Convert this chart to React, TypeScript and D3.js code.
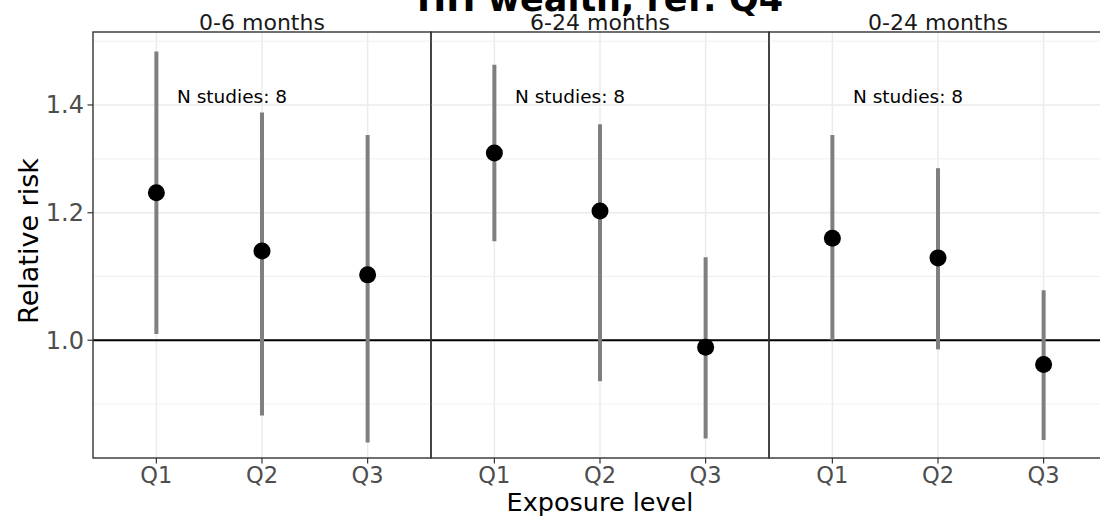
import React from "react";
import * as d3 from "d3";

// ---- data ----
const panels: string[] = ["0-6 months", "6-24 months", "0-24 months"];
const categories: string[] = ["Q1", "Q2", "Q3"];
const estimate: number[][] = [
  [1.235, 1.136, 1.098],
  [1.307, 1.203, 0.99],
  [1.157, 1.125, 0.966],
];
const lower: number[][] = [
  [1.009, 0.898, 0.864],
  [1.152, 0.943, 0.869],
  [1.0, 0.987, 0.867],
];
const upper: number[][] = [
  [1.511, 1.385, 1.341],
  [1.483, 1.362, 1.126],
  [1.341, 1.279, 1.074],
];
const nStudies: number[] = [8, 8, 8];
const yTicks: number[] = [1.0, 1.2, 1.4];
const yDomain: [number, number] = [0.845, 1.554];
const title = "HH wealth, ref: Q4";
const xTitle = "Exposure level";
const yTitle = "Relative risk";

// ---- layout ----
const W = 1100;
const H = 519;
const panelLeft0 = 93;
const panelW = 338;
const top = 32;
const bottom = 458;
const FONT = "'DejaVu Sans', Verdana, sans-serif";

export default function App() {
  const y = d3.scaleLog().domain(yDomain).range([bottom, top]);
  const x = d3.scaleLinear().domain([0.4, 3.6]).range([0, panelW]);
  const lt = yTicks.map((t) => Math.log(t));
  const bd = lt[1] - lt[0];
  const ext = [lt[0] - bd, ...lt, lt[lt.length - 1] + bd];
  const minor: number[] = [];
  for (let i = 0; i < ext.length - 1; i++) minor.push(Math.exp((ext[i] + ext[i + 1]) / 2));
  const minorIn = minor.filter((m) => m > yDomain[0] && m < yDomain[1]);

  return (
    <svg
      width={W}
      height={H}
      style={{ position: "absolute", left: 0, top: 0, display: "block", background: "#fff" }}
      fontFamily={FONT}
    >
      <rect x={0} y={0} width={W} height={H} fill="#fff" />
      {/* title */}
      <text x={600} y={11} textAnchor="middle" fontSize={35} fontWeight="bold" fill="#000">
        {title}
      </text>
      {panels.map((p, pi) => {
        const x0 = panelLeft0 + pi * panelW;
        return (
          <g key={p} transform={`translate(${x0},0)`}>
            {/* minor grid */}
            {minorIn.map((m, i) => (
              <line key={"mi" + i} x1={0} x2={panelW} y1={y(m)} y2={y(m)} stroke="#ebebeb" strokeWidth={0.8} />
            ))}
            {/* major grid */}
            {yTicks.map((t) => (
              <line key={"ma" + t} x1={0} x2={panelW} y1={y(t)} y2={y(t)} stroke="#ebebeb" strokeWidth={1.5} />
            ))}
            {categories.map((c, ci) => (
              <line key={"vx" + c} x1={x(ci + 1)} x2={x(ci + 1)} y1={top} y2={bottom} stroke="#ebebeb" strokeWidth={1.5} />
            ))}
            {/* reference line */}
            <line x1={0} x2={panelW} y1={y(1)} y2={y(1)} stroke="#000" strokeWidth={2} />
            {/* error bars */}
            {categories.map((c, ci) => (
              <line
                key={"eb" + c}
                x1={x(ci + 1)}
                x2={x(ci + 1)}
                y1={y(lower[pi][ci])}
                y2={y(upper[pi][ci])}
                stroke="#7f7f7f"
                strokeWidth={4}
              />
            ))}
            {categories.map((c, ci) => (
              <circle key={"pt" + c} cx={x(ci + 1)} cy={y(estimate[pi][ci])} r={8.5} fill="#000" />
            ))}
            {/* annotation */}
            <text x={84} y={103} fontSize={18.5} fill="#000">
              {`N studies: ${nStudies[pi]}`}
            </text>
            {/* border */}
            <rect x={0} y={top} width={panelW} height={bottom - top} fill="none" stroke="#333" strokeWidth={1.4} />
            {/* strip */}
            <text x={panelW / 2} y={30} textAnchor="middle" fontSize={22} fill="#1a1a1a">
              {p}
            </text>
            {/* x ticks */}
            {categories.map((c, ci) => (
              <g key={"xt" + c}>
                <line x1={x(ci + 1)} x2={x(ci + 1)} y1={bottom} y2={bottom + 5.5} stroke="#333" strokeWidth={1.2} />
                <text x={x(ci + 1)} y={483} textAnchor="middle" fontSize={22.5} fill="#4d4d4d">
                  {c}
                </text>
              </g>
            ))}
          </g>
        );
      })}
      {/* y axis */}
      {yTicks.map((t) => (
        <g key={"yt" + t}>
          <line x1={panelLeft0 - 5.5} x2={panelLeft0} y1={y(t)} y2={y(t)} stroke="#333" strokeWidth={1.2} />
          <text x={84} y={y(t) + 8.5} textAnchor="end" fontSize={24} fill="#4d4d4d">
            {d3.format(".1f")(t)}
          </text>
        </g>
      ))}
      <text x={600} y={511} textAnchor="middle" fontSize={25.5} fill="#000">
        {xTitle}
      </text>
      <text transform={`translate(38,241) rotate(-90)`} textAnchor="middle" fontSize={27} fill="#000">
        {yTitle}
      </text>
    </svg>
  );
}
